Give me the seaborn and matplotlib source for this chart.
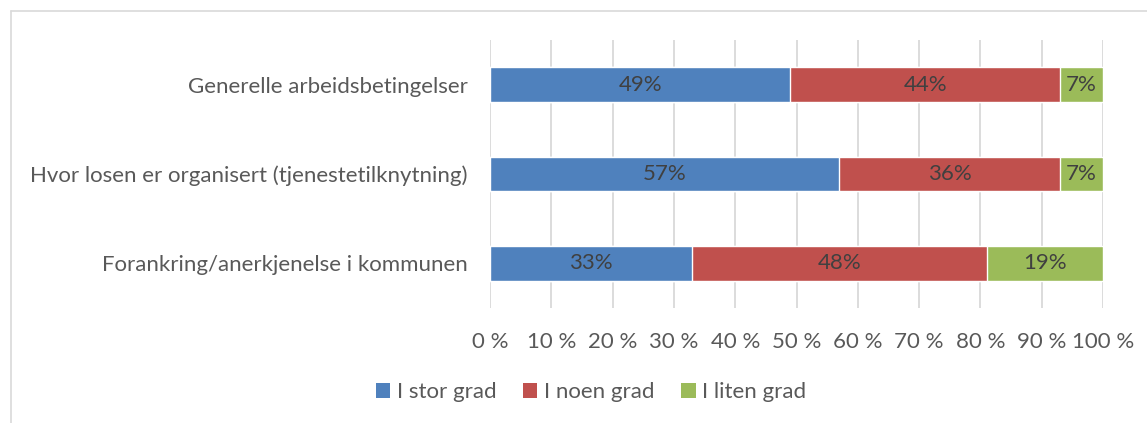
import matplotlib
matplotlib.use("Agg")
import matplotlib.pyplot as plt
import seaborn as sns
import pandas as pd
from matplotlib.patches import Patch
from matplotlib.lines import Line2D

categories = ["Generelle arbeidsbetingelser",
              "Hvor losen er organisert (tjenestetilknytning)",
              "Forankring/anerkjenelse i kommunen"]
series_names = ["I stor grad", "I noen grad", "I liten grad"]
stor = [49, 57, 33]
noen = [44, 36, 48]
liten = [7, 7, 19]
tick_values = [0, 10, 20, 30, 40, 50, 60, 70, 80, 90, 100]
tick_labels = ["0 %", "10 %", "20 %", "30 %", "40 %", "50 %", "60 %", "70 %", "80 %", "90 %", "100 %"]
colors = ["#4F81BD", "#C0504D", "#9BBB59"]

sns.set_theme(style="white")
plt.rcParams['font.family'] = ['Lato', 'DejaVu Sans']

FS = 16

fig = plt.figure(figsize=(11.47, 4.23), dpi=100)
ax = fig.add_axes([490/1147, 1-308/423, (1103-490)/1147, (308-40)/423])

cum1 = stor
cum2 = [a + b for a, b in zip(stor, noen)]
cum3 = [a + b + c for a, b, c in zip(stor, noen, liten)]
layers = [(cum3, colors[2]), (cum2, colors[1]), (cum1, colors[0])]
for vals, col in layers:
    df = pd.DataFrame({"cat": categories, "val": vals})
    sns.barplot(data=df, x="val", y="cat", orient="h", color=col, saturation=1,
                width=0.385, edgecolor="white", linewidth=1, ax=ax, zorder=3)

for i in range(len(categories)):
    segs = [(0, stor[i]), (stor[i], noen[i]), (stor[i] + noen[i], liten[i])]
    for left, w in segs:
        ax.text(left + w / 2, i, f"{w}%", ha="center", va="center",
                fontsize=FS, color="#404040", zorder=4)

ax.set_xlim(0, 100)
ax.set_ylim(2.5, -0.5)
ax.set_xticks(tick_values)
ax.set_xticklabels(tick_labels)
ax.xaxis.grid(True, color="#D9D9D9", linewidth=1.3, zorder=0)
ax.set_axisbelow(True)
ax.tick_params(axis="x", labelsize=FS, colors="#595959", length=0, pad=17)
ax.tick_params(axis="y", labelsize=FS, colors="#595959", length=0, pad=16)
ax.set_xlabel("")
ax.set_ylabel("")
for s in ax.spines.values():
    s.set_visible(False)

handles = [Patch(facecolor=c, edgecolor="none") for c in colors]
fig.legend(handles, series_names, loc="center", bbox_to_anchor=(591/1147, 1-392/423),
           ncol=3, frameon=False, fontsize=FS, labelcolor="#595959",
           handlelength=0.65, handleheight=0.65, handletextpad=0.3, columnspacing=1.2)

# figure border (top and left visible)
fig.add_artist(Line2D([11/1147, 11/1147], [0, 1-11/423], transform=fig.transFigure, color="#D9D9D9", linewidth=1.2))
fig.add_artist(Line2D([11/1147, 1], [1-11/423, 1-11/423], transform=fig.transFigure, color="#D9D9D9", linewidth=1.2))

fig.savefig("out.png", dpi=100, facecolor="white")
